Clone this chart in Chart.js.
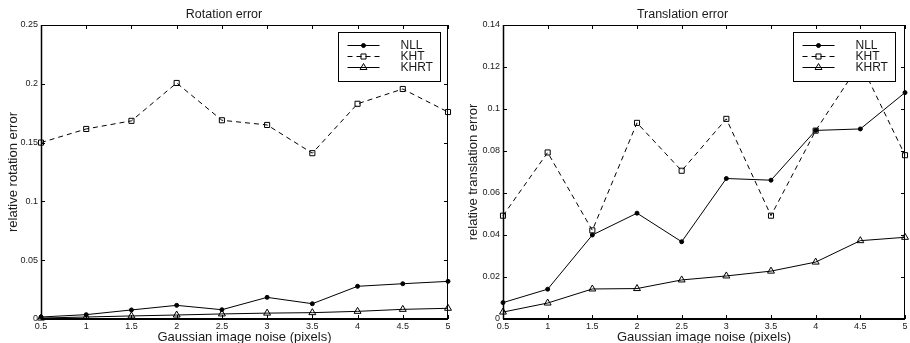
<!DOCTYPE html>
<html>
<head>
<meta charset="utf-8">
<script src="https://cdn.jsdelivr.net/npm/chart.js@4/dist/chart.umd.min.js"></script>
<style>
  html, body { margin: 0; padding: 0; background: #fff; }
  #wrap { position: relative; width: 910px; height: 343px; overflow: hidden; }
  canvas { position: absolute; top: 0; }
  #c1 { left: 0; }
  #c2 { left: 455px; }
</style>
</head>
<body>
<div id="wrap">
  <canvas id="c1" width="455" height="343"></canvas>
  <canvas id="c2" width="455" height="343"></canvas>
</div>
<script>
// ---- data ----
const xValues = [0.5, 1, 1.5, 2, 2.5, 3, 3.5, 4, 4.5, 5];
const xTickLabels = ['0.5', '1', '1.5', '2', '2.5', '3', '3.5', '4', '4.5', '5'];
const seriesNames = ['NLL', 'KHT', 'KHRT'];

const rotNLL  = [0.0017, 0.0037, 0.0077, 0.0116, 0.0079, 0.0184, 0.0130, 0.0278, 0.0300, 0.0320];
const rotKHT  = [0.1500, 0.1616, 0.1685, 0.2007, 0.1690, 0.1650, 0.1410, 0.1830, 0.1956, 0.1760];
const rotKHRT = [0.0008, 0.0017, 0.0026, 0.0034, 0.0043, 0.0050, 0.0054, 0.0065, 0.0082, 0.0091];
const rotYTickLabels = ['0', '0.05', '0.1', '0.15', '0.2', '0.25'];

const trNLL  = [0.0078, 0.0142, 0.0400, 0.0504, 0.0368, 0.0669, 0.0661, 0.0898, 0.0905, 0.1078];
const trKHT  = [0.0492, 0.0793, 0.0422, 0.0934, 0.0706, 0.0953, 0.0492, 0.0897, 0.1220, 0.0780];
const trKHRT = [0.0033, 0.0076, 0.0143, 0.0145, 0.0186, 0.0205, 0.0228, 0.0271, 0.0373, 0.0389];
const trYTickLabels = ['0', '0.02', '0.04', '0.06', '0.08', '0.1', '0.12', '0.14'];

const FONT = '"Liberation Sans", Arial, Helvetica, sans-serif';
const TXT = '#1a1a1a';

function pts(ys) { return xValues.map((x, i) => ({ x: x, y: ys[i] })); }

function makeDatasets(nll, kht, khrt) {
  const base = { borderColor: '#000', borderWidth: 1, pointBorderColor: '#000', pointBorderWidth: 1,
                 tension: 0, clip: false, fill: false };
  return [
    Object.assign({}, base, { label: seriesNames[0], data: pts(nll), pointStyle: 'circle', pointRadius: 2,
                              pointBackgroundColor: '#000' }),
    Object.assign({}, base, { label: seriesNames[1], data: pts(kht), pointStyle: 'rect', pointRadius: 3.6,
                              pointBackgroundColor: 'rgba(0,0,0,0)', borderDash: [5, 4] }),
    Object.assign({}, base, { label: seriesNames[2], data: pts(khrt), pointStyle: 'triangle', pointRadius: 4,
                              pointBackgroundColor: 'rgba(0,0,0,0)' })
  ];
}

// frame with inward ticks on all four sides
const framePlugin = {
  id: 'frame',
  beforeDatasetsDraw(chart) {
    const { ctx, chartArea: a, scales } = chart;
    const xs = scales.x, ys = scales.y;
    ctx.save();
    ctx.strokeStyle = '#000';
    ctx.lineWidth = 1;
    ctx.beginPath();
    ctx.moveTo(a.left + 0.5, a.top + 0.5);
    ctx.lineTo(a.right - 0.5, a.top + 0.5);
    ctx.lineTo(a.right - 0.5, a.bottom);
    ctx.stroke();
    ctx.lineWidth = 1.5;
    ctx.beginPath();
    ctx.moveTo(a.left + 0.5, a.top);
    ctx.lineTo(a.left + 0.5, a.bottom);
    ctx.stroke();
    ctx.lineWidth = 2;
    ctx.beginPath();
    ctx.moveTo(a.left, a.bottom);
    ctx.lineTo(a.right, a.bottom);
    ctx.stroke();
    ctx.lineWidth = 1;
    const L = 4;
    ctx.beginPath();
    xs.ticks.forEach(t => {
      const px = Math.round(xs.getPixelForValue(t.value)) + 0.5;
      ctx.moveTo(px, a.top); ctx.lineTo(px, a.top + L);
      ctx.moveTo(px, a.bottom); ctx.lineTo(px, a.bottom - L);
    });
    ys.ticks.forEach(t => {
      const py = Math.round(ys.getPixelForValue(t.value)) + 0.5;
      ctx.moveTo(a.left, py); ctx.lineTo(a.left + L, py);
      ctx.moveTo(a.right, py); ctx.lineTo(a.right - L, py);
    });
    ctx.stroke();
    ctx.restore();
  }
};

// boxed legend in the upper right of the plot
const boxLegendPlugin = {
  id: 'boxLegend',
  afterDatasetsDraw(chart, args, opts) {
    const { ctx, chartArea: a } = chart;
    const w = 102, h = 49;
    const x0 = Math.round(a.right - opts.right - w) + 0.5;
    const y0 = Math.round(a.top + opts.top) + 0.5;
    ctx.save();
    ctx.fillStyle = '#fff';
    ctx.fillRect(x0, y0, w, h);
    ctx.strokeStyle = '#000';
    ctx.lineWidth = 1;
    ctx.strokeRect(x0, y0, w, h);
    ctx.font = '12px ' + FONT;
    ctx.textBaseline = 'middle';
    ctx.textAlign = 'left';
    chart.data.datasets.forEach((ds, i) => {
      const cy = y0 + 13 + i * 11;
      ctx.strokeStyle = '#000';
      ctx.lineWidth = 1;
      ctx.setLineDash(ds.borderDash || []);
      ctx.beginPath();
      ctx.moveTo(x0 + 9, cy);
      ctx.lineTo(x0 + 41, cy);
      ctx.stroke();
      ctx.setLineDash([]);
      ctx.fillStyle = ds.pointBackgroundColor;
      Chart.helpers.drawPoint(ctx, { pointStyle: ds.pointStyle, radius: ds.pointRadius, borderWidth: 1, rotation: 0 }, x0 + 25, cy);
      ctx.fillStyle = TXT;
      ctx.fillText(ds.label, x0 + 62, cy + 0.5);
    });
    ctx.restore();
  }
};

function makeChart(id, title, yTitle, yMax, yStep, yLabels, datasets, cfg) {
  return new Chart(document.getElementById(id), {
    type: 'line',
    data: { datasets: datasets },
    plugins: [framePlugin, boxLegendPlugin],
    options: {
      responsive: false,
      animation: false,
      devicePixelRatio: 1,
      layout: { padding: { left: 0, right: cfg.padRight, top: 0, bottom: 0 } },
      plugins: {
        legend: { display: false },
        tooltip: { enabled: false },
        title: { display: true, text: title, color: TXT,
                 font: { family: FONT, size: 12.5, weight: 'normal', lineHeight: 1 },
                 padding: { top: 8, bottom: 4.5 } },
        boxLegend: { right: cfg.legendRight, top: 7 }
      },
      scales: {
        x: {
          type: 'linear', min: 0.5, max: 5,
          grid: { display: false, drawTicks: false },
          border: { display: false },
          ticks: { stepSize: 0.5, padding: 2, color: TXT, maxRotation: 0, autoSkip: false,
                   font: { family: FONT, size: 9 },
                   callback: (v, i) => xTickLabels[i] },
          title: { display: true, text: 'Gaussian image noise (pixels)', color: TXT,
                   font: { family: FONT, size: 13, lineHeight: 0.8 }, padding: { top: 0, bottom: 0 } },
          afterFit: s => { s.height = 24; s.paddingLeft = 0; s.paddingRight = 0; }
        },
        y: {
          type: 'linear', min: 0, max: yMax,
          grid: { display: false, drawTicks: false },
          border: { display: false },
          ticks: { stepSize: yStep, padding: 3, color: TXT, autoSkip: false,
                   font: { family: FONT, size: 9 },
                   callback: (v, i) => yLabels[i] },
          title: { display: true, text: yTitle, color: TXT,
                   font: { family: FONT, size: 13, lineHeight: 1 }, padding: { top: cfg.yTitlePad, bottom: 0 } },
          afterFit: s => { s.width = cfg.yWidth; }
        }
      }
    }
  });
}

makeChart('c1', 'Rotation error', 'relative rotation error', 0.25, 0.05, rotYTickLabels,
  makeDatasets(rotNLL, rotKHT, rotKHRT), { padRight: 7, legendRight: 8, yTitlePad: 6.5, yWidth: 41 });
makeChart('c2', 'Translation error', 'relative translation error', 0.14, 0.02, trYTickLabels,
  makeDatasets(trNLL, trKHT, trKHRT), { padRight: 0, legendRight: 10, yTitlePad: 11.5, yWidth: 48 });
</script>
</body>
</html>
